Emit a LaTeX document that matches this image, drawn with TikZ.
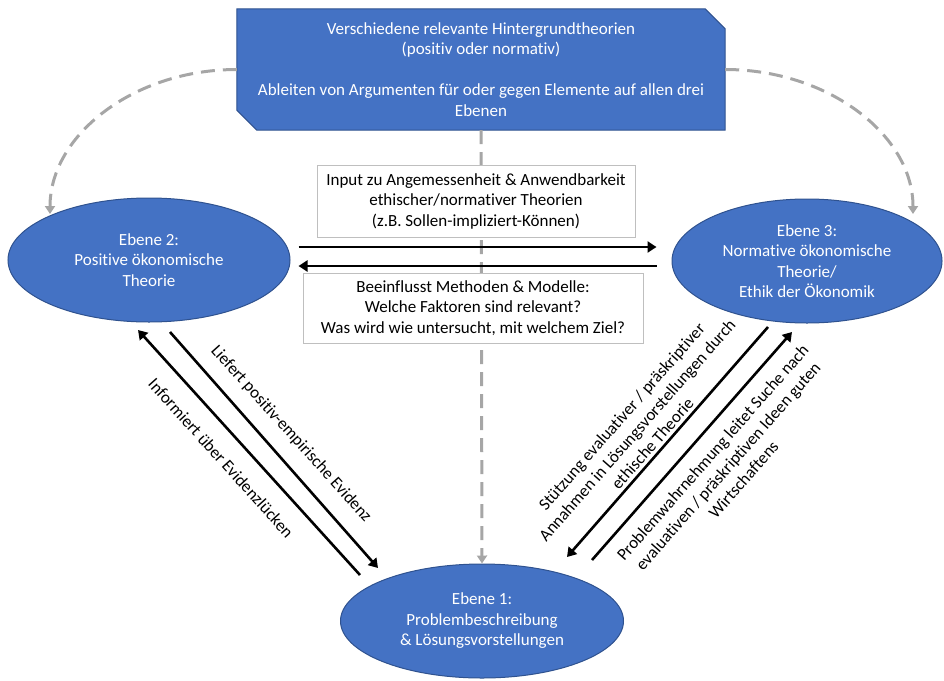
\documentclass[tikz,border=0pt]{standalone}
\usepackage{fontspec}
\setmainfont[Ligatures={NoCommon}]{Carlito}
\usetikzlibrary{arrows.meta,shapes.geometric,backgrounds}
\definecolor{blueF}{HTML}{4472C4}
\definecolor{blueD}{HTML}{2F528F}
\definecolor{grayL}{HTML}{A6A6A6}
\definecolor{boxB}{HTML}{BFBFBF}
\begin{document}
\begin{tikzpicture}[x=1pt,y=-1pt,
  every node/.style={font=\fontsize{17}{20.5}\selectfont},
  lvl/.style={ellipse, fill=blueF, draw=blueD, line width=1pt, text=white, align=center, inner sep=0pt},
  wbox/.style={draw=boxB, fill=white, line width=0.8pt, align=center, inner sep=0pt},
  fwd/.style={line width=2.6pt, -{Triangle[length=9pt,width=11pt]}},
  gdash/.style={grayL, line width=3pt, dash pattern=on 14pt off 8pt, -{Triangle[length=8pt,width=10pt]}},
  lab/.style={align=center, inner sep=0pt}
]
\useasboundingbox (0,0) rectangle (944,680);

% top box
\node[minimum width=488pt, minimum height=121pt, inner sep=0pt, text=white, align=center] (top) at (481,69.5)
  {Verschiedene relevante Hintergrundtheorien\\(positiv oder normativ)\\[20.5pt]Ableiten von Argumenten für oder gegen Elemente auf allen drei\\Ebenen};
\begin{scope}[on background layer]
\filldraw[fill=blueF, draw=blueD, line width=1pt] (top.north west) -- ([xshift=-20pt]top.north east) -- ([yshift=-20pt]top.north east) -- (top.south east) -- ([xshift=20pt]top.south west) -- ([yshift=20pt]top.south west) -- cycle;
\end{scope}

% levels
\node[lvl, minimum width=282pt, minimum height=124pt] (e2) at (149,260) {Ebene 2:\\Positive ökonomische\\Theorie};
\node[lvl, minimum width=270pt, minimum height=124pt] (e3) at (807,261) {Ebene 3:\\Normative ökonomische\\Theorie/\\Ethik der Ökonomik};
\node[lvl, minimum width=283pt, minimum height=114pt] (e1) at (482,621) {Ebene 1:\\Problembeschreibung\\\& Lösungsvorstellungen};

% gray dashed connectors
\coordinate (t2) at (50,214);
\coordinate (t3) at (913,214);
\draw[gdash] (top.west) .. controls (134,69.5) and (50,135) .. (t2);
\draw[gdash] (top.east) .. controls (828,69.5) and (913,135) .. (t3);
\draw[gdash] (top.south) -- (e1.north);

% white boxes
\node[wbox, minimum width=318pt, minimum height=72pt] (inA) at (476,201) {Input zu Angemessenheit \& Anwendbarkeit\\ethischer/normativer Theorien\\(z.B. Sollen-impliziert-Können)};
\node[wbox, minimum width=340pt, minimum height=70pt] (inB) at (473,308) {Beeinflusst Methoden \& Modelle:\\Welche Faktoren sind relevant?\\Was wird wie untersucht, mit welchem Ziel?};

% horizontal arrows
\draw[fwd] ([xshift=8pt,yshift=13pt]e2.east) -- ([xshift=-15pt,yshift=14pt]e3.west);
\draw[fwd] ([xshift=-15pt,yshift=-5pt]e3.west) -- ([xshift=8pt,yshift=-6pt]e2.east);

% diagonal arrows
\coordinate (l1s) at (360,575); \coordinate (l1e) at (138,330);
\coordinate (l2s) at (170,332); \coordinate (l2e) at (378,568);
\coordinate (r1s) at (768,327); \coordinate (r1e) at (567,557);
\coordinate (r2s) at (592,560); \coordinate (r2e) at (792,332);
\draw[fwd] (l1s) -- (l1e);
\draw[fwd] (l2s) -- (l2e);
\draw[fwd] (r1s) -- (r1e);
\draw[fwd] (r2s) -- (r2e);

% labels
\node[lab, rotate=-48] (lab1) at (221,458) {Informiert über Evidenzlücken};
\node[lab, rotate=-48] (lab2) at (291,434) {Liefert positiv-empirische Evidenz};
\node[lab, rotate=48.7] (lab3) at (637,430) {Stützung evaluativer / präskriptiver\\Annahmen in Lösungsvorstellungen durch\\ethische Theorie};
\node[lab, rotate=48.7] (lab4) at (728,466) {Problemwahrnehmung leitet Suche nach\\evaluativen / präskriptiven Ideen guten\\Wirtschaftens};
\end{tikzpicture}
\end{document}
